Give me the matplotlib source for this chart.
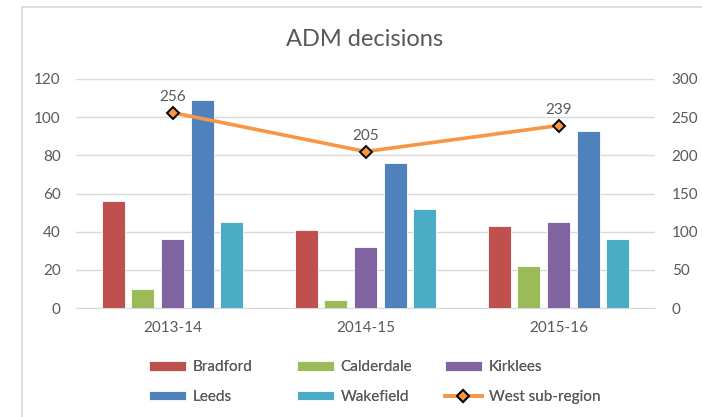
import matplotlib
matplotlib.use("Agg")
import matplotlib.pyplot as plt
import numpy as np
from matplotlib.lines import Line2D

years = ["2013-14", "2014-15", "2015-16"]
bradford = [56, 41, 43]
calderdale = [10, 4, 22]
kirklees = [36, 32, 45]
leeds = [109, 76, 93]
wakefield = [45, 52, 36]
west = [256, 205, 239]

series = [("Bradford", bradford, "#C0504D"),
          ("Calderdale", calderdale, "#9BBB59"),
          ("Kirklees", kirklees, "#8064A2"),
          ("Leeds", leeds, "#4F81BD"),
          ("Wakefield", wakefield, "#4BACC6")]

plt.rcParams['font.family'] = ['Lato', 'DejaVu Sans']
txt = "#595959"
grid = "#D9D9D9"

W, H = 702, 417
fig = plt.figure(figsize=(W/100, H/100), dpi=100)
ax = fig.add_axes([76/W, 1-308/H, (655-76)/W, (308-79)/H])
ax2 = ax.twinx()

x = np.arange(len(years))
pitch = 0.154
bw = 0.119
handles = {}
for i, (name, vals, col) in enumerate(series):
    b = ax.bar(x + (i-2)*pitch, vals, width=bw, color=col, edgecolor="white",
               linewidth=0.6, label=name, zorder=3)
    handles[name] = b

ln, = ax2.plot(x, west, color="#F79646", linewidth=2.6, marker="D", markersize=6,
               markerfacecolor="#F79646", markeredgecolor="black", markeredgewidth=1.4,
               label="West sub-region", zorder=5)
for xi, v in zip(x, west):
    ax2.annotate(str(v), (xi, v), xytext=(0, 6), textcoords="offset points",
                 ha="center", va="bottom", fontsize=11, color=txt)

ax.set_xlim(-0.5, 2.5)
ax.set_ylim(0, 120)
ax.set_yticks(range(0, 121, 20))
ax2.set_ylim(0, 300)
ax2.set_yticks(range(0, 301, 50))
ax.set_xticks(x)
ax.set_xticklabels(years)

for a in (ax, ax2):
    for s in a.spines.values():
        s.set_visible(False)
    a.tick_params(length=0, colors=txt, labelsize=11)
ax.tick_params(axis='y', pad=11)
ax2.tick_params(axis='y', pad=12)
ax.tick_params(axis='x', pad=9)
ax.spines['bottom'].set_visible(True)
ax.spines['bottom'].set_color(grid)
ax.yaxis.grid(True, color=grid, linewidth=1, zorder=0)
ax.set_axisbelow(True)

fig.text(365/W, 1-40/H, "ADM decisions", ha="center", va="center",
         fontsize=17, color=txt)

cols = [(["Bradford", "Leeds"], [handles["Bradford"], handles["Leeds"]], 149),
        (["Calderdale", "Wakefield"], [handles["Calderdale"], handles["Wakefield"]], 297),
        (["Kirklees", "West sub-region"], [handles["Kirklees"], ln], 445)]
for labs, hs, xpx in cols:
    leg = fig.legend(hs, labs, ncol=1, loc="center left",
                     bbox_to_anchor=(xpx/W, 1-382/H), frameon=False,
                     fontsize=11, labelcolor=txt, handlelength=2.4, handleheight=0.55,
                     labelspacing=1.0, handletextpad=0.45, borderpad=0,
                     borderaxespad=0)
    fig.add_artist(leg)

# border lines of the chart frame
fig.add_artist(Line2D([22/W, 22/W], [0, 1-7/H], color=grid, linewidth=1.2,
                      transform=fig.transFigure))
fig.add_artist(Line2D([22/W, 1], [1-7/H, 1-7/H], color=grid, linewidth=1.2,
                      transform=fig.transFigure))

fig.savefig("out.png", dpi=100)
